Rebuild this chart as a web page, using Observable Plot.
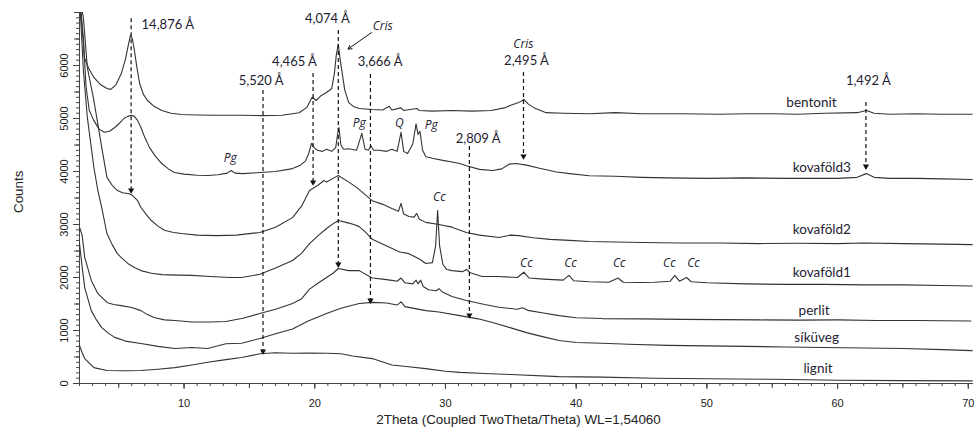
<!DOCTYPE html>
<html>
<head>
<meta charset="utf-8">
<script src="https://cdn.jsdelivr.net/npm/d3@7"></script>
<script src="https://cdn.jsdelivr.net/npm/@observablehq/plot@0.6"></script>
<style>
  html, body { margin: 0; padding: 0; background: #fff; }
  #chart svg { display: block; }
</style>
</head>
<body>
<div id="chart"></div>
<script>
// ---------- data: [2Theta, Counts] ----------
const bentonit = [[2.0,7300],[2.15,6900],[2.37,6150],[2.7,5950],[3.1,5775],[3.6,5640],[4.1,5565],[4.4,5550],[4.8,5640],[5.2,5850],[5.5,6100],[5.7,6340],[5.9,6570],[6.05,6500],[6.2,6280],[6.4,5950],[6.6,5660],[6.9,5450],[7.2,5340],[7.7,5230],[8.3,5150],[9.0,5100],[9.8,5075],[11,5065],[12.5,5060],[14.4,5060],[16,5055],[17.5,5060],[18.8,5110],[19.4,5210],[19.8,5400],[20.1,5340],[20.5,5435],[20.9,5490],[21.3,5565],[21.5,5850],[21.65,6200],[21.8,6400],[21.95,6100],[22.1,5850],[22.3,5530],[22.6,5300],[23.0,5220],[23.4,5190],[24.4,5170],[25.2,5160],[25.7,5230],[25.9,5160],[26.6,5200],[26.8,5150],[27.8,5190],[28.0,5150],[29,5140],[30.5,5150],[32,5140],[33.5,5150],[34.5,5200],[35.0,5250],[35.6,5300],[36.0,5360],[36.3,5280],[36.8,5200],[37.7,5110],[39,5100],[41,5090],[43,5110],[45,5090],[48,5090],[51,5080],[53,5090],[55,5090],[57,5080],[59,5100],[61.5,5110],[62.2,5150],[62.8,5100],[64,5080],[66,5090],[68,5080],[70.3,5080]];
const kovafold3 = [[2.0,7300],[2.3,6500],[2.5,5600],[2.75,5150],[3.1,4960],[3.5,4800],[3.9,4740],[4.3,4760],[4.7,4830],[5.1,4920],[5.4,5000],[5.7,5040],[5.95,5060],[6.2,5040],[6.45,4960],[6.7,4830],[7.0,4640],[7.35,4455],[7.8,4290],[8.3,4150],[8.8,4050],[9.25,3980],[10,3950],[11,3930],[11.8,3925],[12.6,3940],[13.3,3970],[13.6,4020],[13.9,3970],[14.5,3960],[15.8,3980],[17,4000],[18.3,4055],[18.9,4120],[19.3,4200],[19.55,4350],[19.75,4530],[19.95,4450],[20.2,4400],[20.6,4380],[20.9,4420],[21.3,4380],[21.6,4450],[21.75,4700],[21.85,4830],[22.0,4500],[22.2,4420],[22.6,4430],[23.2,4400],[23.6,4720],[23.85,4420],[24.1,4400],[24.3,4480],[24.5,4400],[24.9,4400],[25.5,4380],[25.9,4420],[26.3,4380],[26.6,4740],[26.8,4380],[27.1,4340],[27.5,4520],[27.75,4900],[27.9,4700],[28.05,4760],[28.25,4400],[28.5,4280],[29.0,4250],[29.8,4210],[30.5,4180],[31.1,4150],[31.6,4110],[32.6,4040],[33.6,4020],[34.3,4050],[34.9,4140],[35.4,4150],[36.2,4120],[37.2,4060],[38.5,3990],[39.5,3960],[41,3920],[43,3910],[45,3890],[47,3880],[50,3870],[53,3880],[56,3870],[60,3870],[61.5,3890],[62.2,3960],[62.8,3890],[64,3870],[66,3870],[68,3860],[70.3,3850]];
const kovafold2 = [[2.0,7300],[2.3,6900],[2.6,5960],[3.1,5340],[3.4,4900],[3.7,4455],[4.1,3890],[4.5,3740],[4.9,3640],[5.3,3600],[5.7,3585],[6.0,3560],[6.2,3510],[6.45,3450],[6.7,3320],[7.1,3190],[7.5,3075],[8.0,2970],[8.5,2890],[9.2,2850],[9.8,2830],[11,2800],[12.5,2790],[14,2800],[15.8,2850],[17,2950],[18.3,3130],[19.0,3350],[19.6,3640],[20.3,3750],[20.7,3830],[20.9,3800],[21.4,3870],[21.8,3925],[22.6,3800],[23.2,3700],[24.4,3450],[25.2,3380],[25.9,3300],[26.4,3250],[26.6,3400],[26.8,3200],[27.2,3150],[27.6,3140],[27.8,3210],[28.0,3100],[28.5,3040],[29.5,3000],[30.5,2950],[31.6,2850],[32.6,2800],[34.1,2755],[35.0,2800],[35.6,2790],[36.7,2750],[38,2720],[39.5,2700],[41,2680],[43,2670],[45,2660],[48,2650],[51,2650],[54,2640],[57,2645],[60,2640],[62,2650],[65,2640],[68,2630],[70.3,2620]];
const kovafold1 = [[2.0,7300],[2.3,5900],[2.6,5020],[3.1,4075],[3.4,3650],[3.7,3320],[4.1,2830],[4.5,2620],[4.9,2450],[5.3,2350],[5.7,2265],[6.2,2190],[6.7,2130],[7.5,2080],[8.3,2055],[9.5,2045],[10.6,2040],[12,2020],[13.5,2000],[14.4,2000],[15.8,2060],[17,2180],[18.3,2320],[19.0,2460],[19.6,2640],[20.3,2800],[20.9,2925],[21.5,3030],[21.8,3075],[22.4,3040],[23.0,3000],[23.4,2960],[23.9,2850],[24.4,2720],[25.3,2620],[26.5,2480],[27.2,2450],[28.0,2350],[28.5,2265],[29.0,2280],[29.25,2600],[29.4,3265],[29.55,2600],[29.8,2250],[30.1,2150],[30.5,2130],[31.3,2110],[31.6,2150],[31.9,2090],[32.8,2020],[34,2020],[35.5,2000],[36.0,2100],[36.4,1990],[37.5,1970],[39.0,1950],[39.45,2040],[39.8,1940],[41,1920],[42.5,1910],[43.2,1990],[43.6,1910],[45,1905],[46,1910],[47.2,1930],[47.55,2040],[47.9,1930],[48.45,2000],[48.8,1920],[50,1900],[53,1880],[56,1870],[59,1870],[62,1860],[65,1860],[68,1850],[70.3,1840]];
const perlit = [[2.0,2950],[2.2,2800],[2.4,2380],[2.9,1945],[3.4,1700],[4.1,1530],[4.6,1490],[5.2,1470],[6.0,1435],[6.7,1375],[7.2,1300],[7.7,1245],[8.5,1200],[9.3,1190],[10.6,1160],[12,1160],[13.2,1170],[14.5,1230],[15.8,1320],[17,1400],[18.3,1510],[19.0,1600],[19.6,1780],[20.3,1900],[20.9,2000],[21.4,2080],[21.8,2170],[22.6,2130],[23.4,2130],[24.4,1990],[25.2,1970],[25.9,1945],[26.3,1930],[26.6,1990],[26.9,1900],[27.5,1880],[27.75,1950],[27.9,1880],[28.1,1950],[28.3,1830],[28.7,1770],[29.3,1750],[29.5,1790],[29.8,1720],[30.5,1640],[31.6,1565],[33,1490],[34.1,1440],[35.5,1400],[35.9,1430],[36.3,1380],[37.5,1330],[38.7,1280],[40,1240],[42,1225],[45,1220],[48,1210],[51,1205],[54,1200],[57,1195],[60,1200],[63,1190],[66,1190],[68,1185],[70.2,1180]];
const sikuveg = [[2.0,2640],[2.2,2200],[2.4,1810],[2.9,1375],[3.3,1200],[3.7,1055],[4.2,950],[4.7,870],[5.5,800],[6.7,755],[8,700],[9.3,660],[10.6,680],[11.8,660],[13.2,750],[14.4,760],[15.8,850],[17,940],[18.3,1030],[19.5,1180],[20.9,1320],[22,1420],[23.4,1510],[24.4,1530],[25.5,1520],[26.3,1480],[26.6,1540],[26.9,1450],[28.5,1375],[29.5,1350],[31.1,1280],[32.5,1220],[33.6,1150],[35,1050],[36.2,960],[37.5,880],[38.7,810],[40,775],[42,760],[44,740],[47,720],[50,710],[53,700],[56,690],[59,680],[62,670],[65,660],[68,640],[70.3,620]];
const lignit = [[2.0,720],[2.2,580],[2.4,470],[3.1,300],[4.1,245],[5.5,240],[6.7,245],[8,270],[9.3,300],[10.6,350],[11.8,400],[13.2,450],[14.4,490],[15.8,560],[17,580],[18.3,570],[19.5,575],[20.9,570],[22,560],[22.9,520],[24.4,470],[25.9,350],[27,320],[28.5,280],[30,230],[31.1,210],[33,190],[35,170],[38.7,130],[42,120],[46,100],[50,90],[55,80],[60,60],[65,55],[70.3,50]];

// series names and label anchor positions (2Theta, Counts)
const seriesNames = ["bentonit","kovaföld3","kovaföld2","kovaföld1","perlit","síküveg","lignit"];
const seriesData  = [bentonit, kovafold3, kovafold2, kovafold1, perlit, sikuveg, lignit];
const seriesLabelTheta  = [58.0, 58.8, 58.8, 58.8, 58.2, 58.4, 58.5];
const seriesLabelCounts = [5300, 4080, 2900, 2095, 1380, 870, 285];

// d-spacing peak markers (dashed arrows)
const peakLabels   = ["14,876 Å","5,520 Å","4,465 Å","4,074 Å","3,666 Å","2,809 Å","2,495 Å","1,492 Å"];
const peakTheta    = [5.95, 16.04, 19.87, 21.8, 24.26, 31.83, 35.97, 62.17];
const peakTop      = [6880, 5530, 5850, 6660, 5830, 4470, 5870, 5300];
const peakBottom   = [3610, 570, 3760, 2210, 1530, 1250, 4250, 4060];
const peakLabelTheta  = [6.75, 15.9, 18.45, 20.96, 25.0, 32.5, 36.2, 62.35];
const peakLabelCounts = [6760, 5720, 6060, 6890, 6060, 4620, 6090, 5720];
const peakLabelAnchor = ["start","middle","middle","middle","middle","middle","middle","middle"];

// phase labels (italic)
const phaseLabels = ["Cris","Cris","Pg","Pg","Q","Pg","Cc","Cc","Cc","Cc","Cc","Cc"];
const phaseTheta  = [25.2, 35.96, 13.54, 23.41, 26.47, 28.92, 29.53, 36.19, 39.56, 43.3, 47.13, 48.97];
const phaseCounts = [6740, 6400, 4250, 4910, 4910, 4870, 3510, 2265, 2265, 2265, 2265, 2265];

// Cris pointer arrow
const crisArrow = [{x1: 24.33, y1: 6620, x2: 22.55, y2: 6310}];

const xLabel = "2Theta (Coupled TwoTheta/Theta) WL=1,54060";
const yLabel = "Counts";

const lineRows = seriesNames.flatMap((name, i) => seriesData[i].map(([t, c]) => ({name, t, c})));
const peaks = peakLabels.map((label, i) => ({label, t: peakTheta[i], top: peakTop[i], bottom: peakBottom[i], lt: peakLabelTheta[i], lc: peakLabelCounts[i], anchor: peakLabelAnchor[i]}));
const phases = phaseLabels.map((label, i) => ({label, t: phaseTheta[i], c: phaseCounts[i]}));
const seriesLabels = seriesNames.map((name, i) => ({name, t: seriesLabelTheta[i], c: seriesLabelCounts[i]}));

const annFont = "Lato, 'Open Sans', sans-serif";
const italicFont = "'Open Sans', Lato, sans-serif";
const axisFont = "'Liberation Sans', Arial, sans-serif";
const textColor = "#1d2230";

const chart = Plot.plot({
  width: 978,
  height: 430,
  marginLeft: 79,
  marginRight: 5,
  marginTop: 12,
  marginBottom: 47,
  style: {fontFamily: axisFont, background: "#fff"},
  x: {domain: [2, 70.4]},
  y: {domain: [0, 7000]},
  marks: [
    // minor/major ticks
    Plot.axisX({ticks: d3.range(2, 71, 1), tickSize: 3, text: null, label: null, stroke: "#444"}),
    Plot.axisX({ticks: d3.range(5, 71, 5), tickSize: 5, text: null, label: null, stroke: "#444"}),
    Plot.axisX({ticks: d3.range(10, 71, 10), tickSize: 6, tickPadding: 10, fontSize: 11, label: null, stroke: "#444", fill: "#222"}),
    Plot.axisY({ticks: d3.range(0, 7001, 100), tickSize: 3, text: null, label: null, stroke: "#444"}),
    Plot.axisY({ticks: d3.range(0, 7001, 500), tickSize: 5, text: null, label: null, stroke: "#444"}),
    Plot.axisY({ticks: d3.range(0, 6001, 1000), tickSize: 6, tickPadding: 6, tickRotate: -90, tickFormat: d => String(d), fontSize: 11, label: null, stroke: "#444", fill: "#222"}),
    Plot.ruleX([2], {stroke: "#444"}),
    Plot.ruleY([0], {stroke: "#444"}),
    // axis titles
    Plot.text([xLabel], {frameAnchor: "bottom", dx: -8, dy: 40, text: d => d, fontSize: 13.4, fontFamily: axisFont, fill: "#222"}),
    Plot.text([yLabel], {frameAnchor: "left", dx: -61, dy: 15, rotate: -90, text: d => d, fontSize: 13.4, fontFamily: axisFont, fill: "#222"}),
    // diffraction patterns
    Plot.line(lineRows, {x: "t", y: "c", z: "name", stroke: "#333", strokeWidth: 1.1, clip: true}),
    // dashed peak markers
    Plot.ruleX(peaks, {x: "t", y1: "top", y2: "bottom", stroke: "#111", strokeWidth: 1.2, strokeDasharray: "4,3"}),
    Plot.dot(peaks, {x: "t", y: "bottom", symbol: "triangle", rotate: 180, r: 2.3, fill: "#111", stroke: null, dy: -2}),
    Plot.text(peaks, {x: "lt", y: "lc", text: "label", textAnchor: "start", filter: d => d.anchor === "start", fontSize: 13, fontFamily: annFont, fill: textColor}),
    Plot.text(peaks, {x: "lt", y: "lc", text: "label", filter: d => d.anchor === "middle", fontSize: 13, fontFamily: annFont, fill: textColor}),
    // Cris pointer
    Plot.arrow(crisArrow, {x1: "x1", y1: "y1", x2: "x2", y2: "y2", stroke: "#111", strokeWidth: 1, headLength: 6}),
    // phase labels
    Plot.text(phases, {x: "t", y: "c", text: "label", fontSize: 12, fontStyle: "italic", fontFamily: italicFont, fill: textColor}),
    // series labels
    Plot.text(seriesLabels, {x: "t", y: "c", text: "name", fontSize: 13.5, fontFamily: annFont, fill: textColor})
  ]
});

document.getElementById("chart").appendChild(chart);
</script>
</body>
</html>
